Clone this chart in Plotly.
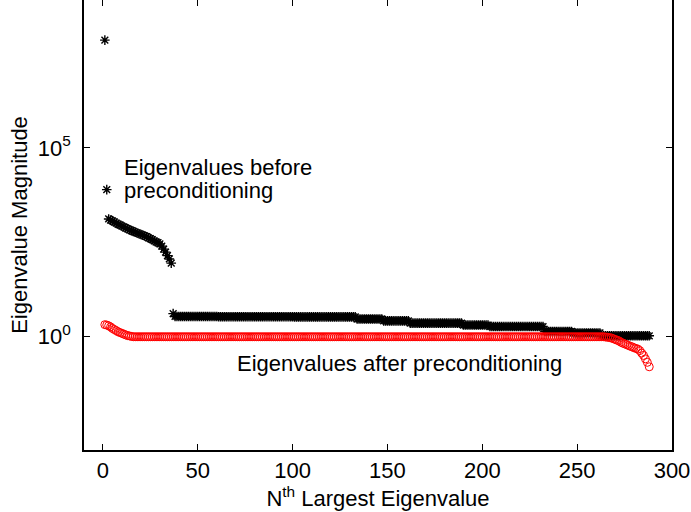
import plotly.graph_objects as go

# ---------------- data ----------------
ranks = list(range(1, 289))  # N-th largest eigenvalue index

eig_before = [
    7.2e7, 7900,
    # 3..36
    1318, 1230, 1175, 1096, 1023, 955, 912, 851, 813, 759,
    724, 676, 646, 617, 589, 562, 537, 513, 490, 468,
    447, 417, 398, 372, 347, 324, 309, 288, 251, 209,
    174, 141, 115, 89,
    # 37
    4.1,
    # 38..60
    3.45, 3.45, 3.45, 3.45, 3.45, 3.45, 3.45, 3.45, 3.45, 3.45,
    3.45, 3.45, 3.45, 3.45, 3.45, 3.45, 3.45, 3.45, 3.45, 3.45,
    3.45, 3.45, 3.45,
    # 61..100
    3.40, 3.40, 3.40, 3.40, 3.40, 3.40, 3.40, 3.40, 3.40, 3.40,
    3.40, 3.40, 3.40, 3.40, 3.40, 3.40, 3.40, 3.40, 3.40, 3.40,
    3.40, 3.40, 3.40, 3.40, 3.40, 3.40, 3.40, 3.40, 3.40, 3.40,
    3.40, 3.40, 3.40, 3.40, 3.40, 3.40, 3.40, 3.40, 3.40, 3.40,
    # 101..133
    3.35, 3.35, 3.35, 3.35, 3.35, 3.35, 3.35, 3.35, 3.35, 3.35,
    3.35, 3.35, 3.35, 3.35, 3.35, 3.35, 3.35, 3.35, 3.35, 3.35,
    3.35, 3.35, 3.35, 3.35, 3.35, 3.35, 3.35, 3.35, 3.35, 3.35,
    3.35, 3.35, 3.35,
    # 134..147
    2.95, 2.95, 2.95, 2.95, 2.95, 2.95, 2.95, 2.95, 2.95, 2.95,
    2.95, 2.95, 2.95, 2.95,
    # 148..161
    2.63, 2.63, 2.63, 2.63, 2.63, 2.63, 2.63, 2.63, 2.63, 2.63,
    2.63, 2.63, 2.63, 2.63,
    # 162..189
    2.29, 2.29, 2.29, 2.29, 2.29, 2.29, 2.29, 2.29, 2.29, 2.29,
    2.29, 2.29, 2.29, 2.29, 2.29, 2.29, 2.29, 2.29, 2.29, 2.29,
    2.29, 2.29, 2.29, 2.29, 2.29, 2.29, 2.29, 2.29,
    # 190..203
    2.04, 2.04, 2.04, 2.04, 2.04, 2.04, 2.04, 2.04, 2.04, 2.04,
    2.04, 2.04, 2.04, 2.04,
    # 204..232
    1.86, 1.86, 1.86, 1.86, 1.86, 1.86, 1.86, 1.86, 1.86, 1.86,
    1.86, 1.86, 1.86, 1.86, 1.86, 1.86, 1.86, 1.86, 1.86, 1.86,
    1.86, 1.86, 1.86, 1.86, 1.86, 1.86, 1.86, 1.86, 1.86,
    # 233..247
    1.38, 1.38, 1.38, 1.38, 1.38, 1.38, 1.38, 1.38, 1.38, 1.38,
    1.38, 1.38, 1.38, 1.38, 1.38,
    # 248..262
    1.26, 1.26, 1.26, 1.26, 1.26, 1.26, 1.26, 1.26, 1.26, 1.26,
    1.26, 1.26, 1.26, 1.26, 1.26,
    # 263..288
    1.06, 1.06, 1.06, 1.06, 1.06, 1.06, 1.06, 1.06, 1.06, 1.06,
    1.06, 1.06, 1.06, 1.06, 1.06, 1.06, 1.06, 1.06, 1.06, 1.06,
    1.06, 1.06, 1.06, 1.06, 1.06, 1.06,
]

eig_after = [
    # 1..15
    2.09, 2.04, 1.95, 1.82, 1.66, 1.55, 1.45, 1.35, 1.29, 1.23,
    1.17, 1.12, 1.07, 1.05, 1.02,
    # 16..264
    1.0, 1.0, 1.0, 1.0, 1.0, 1.0, 1.0, 1.0, 1.0, 1.0, 1.0, 1.0, 1.0, 1.0, 1.0, 1.0, 1.0, 1.0, 1.0, 1.0, 1.0, 1.0, 1.0, 1.0, 1.0,
    1.0, 1.0, 1.0, 1.0, 1.0, 1.0, 1.0, 1.0, 1.0, 1.0, 1.0, 1.0, 1.0, 1.0, 1.0, 1.0, 1.0, 1.0, 1.0, 1.0, 1.0, 1.0, 1.0, 1.0, 1.0,
    1.0, 1.0, 1.0, 1.0, 1.0, 1.0, 1.0, 1.0, 1.0, 1.0, 1.0, 1.0, 1.0, 1.0, 1.0, 1.0, 1.0, 1.0, 1.0, 1.0, 1.0, 1.0, 1.0, 1.0, 1.0,
    1.0, 1.0, 1.0, 1.0, 1.0, 1.0, 1.0, 1.0, 1.0, 1.0, 1.0, 1.0, 1.0, 1.0, 1.0, 1.0, 1.0, 1.0, 1.0, 1.0, 1.0, 1.0, 1.0, 1.0, 1.0,
    1.0, 1.0, 1.0, 1.0, 1.0, 1.0, 1.0, 1.0, 1.0, 1.0, 1.0, 1.0, 1.0, 1.0, 1.0, 1.0, 1.0, 1.0, 1.0, 1.0, 1.0, 1.0, 1.0, 1.0, 1.0,
    1.0, 1.0, 1.0, 1.0, 1.0, 1.0, 1.0, 1.0, 1.0, 1.0, 1.0, 1.0, 1.0, 1.0, 1.0, 1.0, 1.0, 1.0, 1.0, 1.0, 1.0, 1.0, 1.0, 1.0, 1.0,
    1.0, 1.0, 1.0, 1.0, 1.0, 1.0, 1.0, 1.0, 1.0, 1.0, 1.0, 1.0, 1.0, 1.0, 1.0, 1.0, 1.0, 1.0, 1.0, 1.0, 1.0, 1.0, 1.0, 1.0, 1.0,
    1.0, 1.0, 1.0, 1.0, 1.0, 1.0, 1.0, 1.0, 1.0, 1.0, 1.0, 1.0, 1.0, 1.0, 1.0, 1.0, 1.0, 1.0, 1.0, 1.0, 1.0, 1.0, 1.0, 1.0, 1.0,
    1.0, 1.0, 1.0, 1.0, 1.0, 1.0, 1.0, 1.0, 1.0, 1.0, 1.0, 1.0, 1.0, 1.0, 1.0, 1.0, 1.0, 1.0, 1.0, 1.0, 1.0, 1.0, 1.0, 1.0, 1.0,
    1.0, 1.0, 1.0, 1.0, 1.0, 1.0, 1.0, 1.0, 1.0, 1.0, 1.0, 1.0, 1.0, 1.0, 1.0, 1.0, 1.0, 1.0, 1.0, 1.0, 1.0, 1.0, 1.0, 1.0,
    # 265..288
    0.98, 0.97, 0.95, 0.93, 0.89, 0.85, 0.81, 0.78, 0.72, 0.68,
    0.65, 0.62, 0.59, 0.56, 0.54, 0.51, 0.49, 0.47, 0.43, 0.37,
    0.32, 0.26, 0.21, 0.16,
]

x_ticks = [0, 50, 100, 150, 200, 250, 300]
y_tickvals = [1, 1e5]
y_ticktext = ["10<sup>0</sup>", "10<sup>5</sup>"]

label_before = ["Eigenvalues before", "preconditioning"]
label_after = "Eigenvalues after preconditioning"

assert len(eig_before) == len(ranks), len(eig_before)
assert len(eig_after) == len(ranks), len(eig_after)

# ---------------- figure ----------------
FONT = "Liberation Sans, Arial, Helvetica, sans-serif"
FS = 22
fig = go.Figure()

fig.add_trace(go.Scatter(
    x=ranks, y=eig_before, mode="markers",
    marker=dict(symbol="asterisk-open", size=8, color="black",
                line=dict(color="black", width=1.4)),
    showlegend=False,
))
fig.add_trace(go.Scatter(
    x=ranks, y=eig_after, mode="markers",
    marker=dict(symbol="circle-open", size=8, color="red",
                line=dict(color="red", width=1)),
    showlegend=False,
))

fig.add_annotation(x=10.2, y=4.48, xref="x", yref="y", text=label_before[0],
                   showarrow=False, xanchor="left", yanchor="middle",
                   font=dict(size=FS, color="black", family=FONT))
fig.add_annotation(x=10.2, y=3.87, xref="x", yref="y", text=label_before[1],
                   showarrow=False, xanchor="left", yanchor="middle",
                   font=dict(size=FS, color="black", family=FONT))
fig.add_annotation(x=69.5, y=-0.72, xref="x", yref="y", text=label_after,
                   showarrow=False, xanchor="left", yanchor="middle",
                   font=dict(size=FS, color="black", family=FONT))

fig.update_layout(
    width=691, height=512,
    margin=dict(l=84, r=19, t=0, b=62),
    paper_bgcolor="white", plot_bgcolor="white",
    font=dict(family=FONT, size=FS, color="black"),
    xaxis=dict(
        range=[-10, 300], tickvals=x_ticks, ticks="inside", ticklen=6,
        tickwidth=1, tickcolor="black", automargin=False,
        showline=True, linecolor="black", linewidth=1.5, mirror=False,
        showgrid=False, zeroline=False,
        title=dict(text="N<sup>th</sup> Largest Eigenvalue", standoff=0,
                   font=dict(size=FS)),
        tickfont=dict(size=FS),
    ),
    xaxis2=dict(
        range=[-10, 300], tickvals=x_ticks, ticks="inside", ticklen=6,
        tickwidth=1, tickcolor="black", overlaying="x", side="top",
        showline=False, showgrid=False, zeroline=False, showticklabels=False,
        anchor="y", automargin=False,
    ),
    yaxis=dict(
        type="log", range=[-3, 8.92], tickvals=y_tickvals, ticktext=y_ticktext,
        ticks="inside", ticklen=6, tickwidth=1, tickcolor="black",
        showline=True, linecolor="black", linewidth=1.5, mirror="ticks",
        showgrid=False, zeroline=False, automargin=False,
        ticklabelstandoff=7,
        title=dict(text="Eigenvalue Magnitude", standoff=4, font=dict(size=FS)),
        tickfont=dict(size=FS),
    ),
)

# invisible trace so the top tick axis is drawn
fig.add_trace(go.Scatter(x=[None], y=[None], xaxis="x2", yaxis="y",
                         showlegend=False, hoverinfo="skip"))

fig.write_html("out.html", config={"displayModeBar": False},
               post_script="document.body.style.margin='0';document.body.style.padding='0';")
